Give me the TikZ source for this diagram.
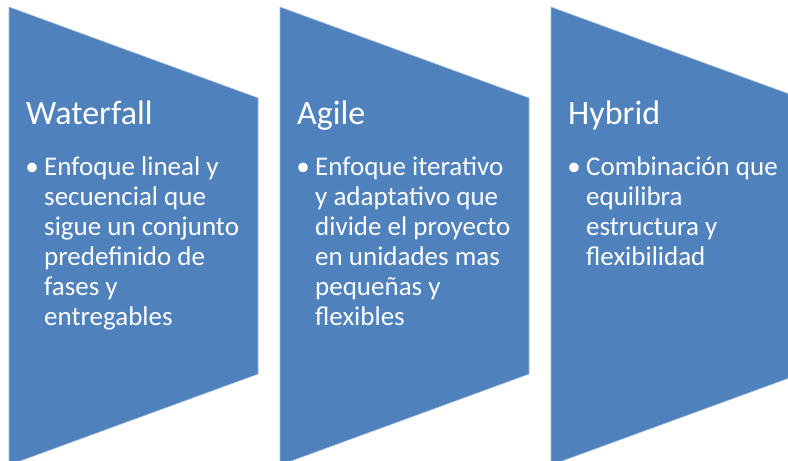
\documentclass[tikz,border=0pt]{standalone}
\usepackage{fontspec}
\setmainfont{Carlito}
\definecolor{officeblue}{HTML}{4F81BD}
\begin{document}
\begin{tikzpicture}[x=1pt,y=-1pt,
  chevron/.style={fill=officeblue, draw=officeblue!55!white, line width=0.6pt},
  titletext/.style={anchor=base west, inner sep=0pt, text=white, font=\fontsize{34}{40}\selectfont},
  bodytext/.style={anchor=north west, inner sep=0pt, text=white, align=left, font=\fontsize{27}{30}\selectfont},
  bulletmark/.style={anchor=base, inner sep=0pt, text=white, font=\fontsize{27}{30}\selectfont}]
\useasboundingbox (0,0) rectangle (788,461);
\begin{scope}
  \clip (0,0) rectangle (788,461);
  \foreach \x in {9,280,551}
    \path[chevron] (\x,7) -- (\x+249,98) -- (\x+249,374) -- (\x,465) -- cycle;
\end{scope}
% Waterfall
\node[titletext] (t1) at (26,124.5) {Waterfall};
\node[bulletmark] (b1) at (32,175) {•};
\node[bodytext] (d1) at (44,154.5) {\strut Enfoque lineal y\\secuencial que\\sigue un conjunto\\predefinido de\\fases y\\entregables};
% Agile
\node[titletext] (t2) at (297,124.5) {Agile};
\node[bulletmark] (b2) at (303,175) {•};
\node[bodytext] (d2) at (315,154.5) {\strut Enfoque iterativo\\y adaptativo que\\divide el proyecto\\en unidades mas\\pequeñas y\\flexibles};
% Hybrid
\node[titletext] (t3) at (568,124.5) {Hybrid};
\node[bulletmark] (b3) at (574,175) {•};
\node[bodytext] (d3) at (586,154.5) {\strut Combinación que\\equilibra\\estructura y\\flexibilidad};
\end{tikzpicture}
\end{document}
